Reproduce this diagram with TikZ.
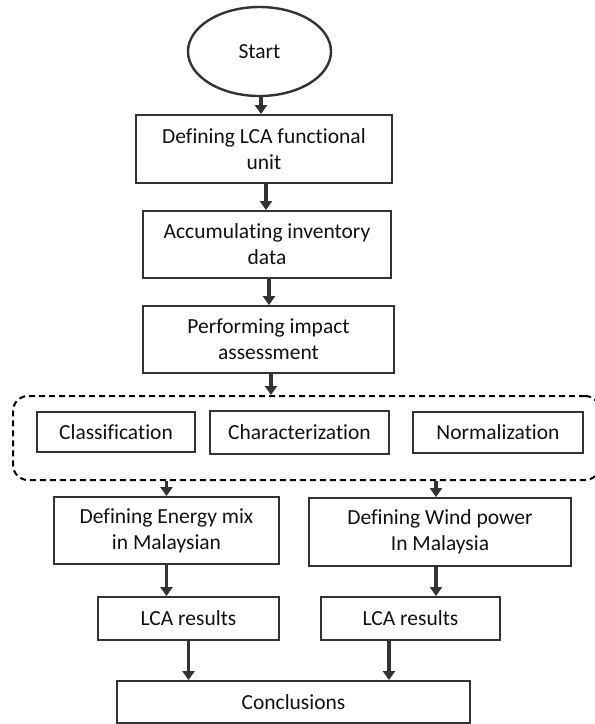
\documentclass[tikz,border=0pt]{standalone}
\usepackage{fontspec}
\setmainfont[Ligatures=NoCommon]{Carlito}
\usetikzlibrary{arrows.meta,shapes.geometric}
\definecolor{ln}{HTML}{333333}
\definecolor{tx}{HTML}{111111}
\begin{document}
\begin{tikzpicture}[x=1pt,y=-1pt,
  box/.style={draw=ln,line width=1.9pt,rectangle,align=center,text=tx,font=\fontsize{21.5}{26}\selectfont,inner sep=0pt},
  arr/.style={draw=ln,line width=3.2pt,-{Triangle[length=9pt,width=12pt]}},
  grpbox/.style={draw=black,line width=2pt,dash pattern=on 6pt off 4pt,rounded corners=15pt,rectangle,inner sep=0pt}]
\useasboundingbox (0,0) rectangle (595,724);
\clip (0,0) rectangle (595,724);
\node[box,ellipse,line width=2.4pt,minimum width=143pt,minimum height=89pt] (start) at (259.5,51.5) {Start};
\node[box,minimum width=256pt,minimum height=68pt] (b1) at (264,149) {Defining LCA functional\\unit};
\node[box,minimum width=248pt,minimum height=67pt] (b2) at (267,244.5) {Accumulating inventory\\data};
\node[box,minimum width=251pt,minimum height=67pt] (b3) at (268.5,339.5) {Performing impact\\assessment};
\node[grpbox,minimum width=587pt,minimum height=84pt] (grp) at (306.5,438) {};
\node[box,minimum width=158pt,minimum height=40pt] (cls) at (116,432) {Classification};
\node[box,minimum width=179pt,minimum height=43pt] (chr) at (299.5,432.5) {Characterization};
\node[box,minimum width=170pt,minimum height=41pt] (nor) at (498,432.5) {Normalization};
\node[box,minimum width=225pt,minimum height=67pt] (em) at (166.5,530.5) {Defining Energy mix\\in Malaysian};
\node[box,minimum width=262pt,minimum height=68pt] (wp) at (440,532) {Defining Wind power\\In Malaysia};
\node[box,minimum width=181pt,minimum height=43pt] (r1) at (188.5,618.5) {LCA results};
\node[box,minimum width=179pt,minimum height=43pt] (r2) at (410.5,618.5) {LCA results};
\node[box,minimum width=353pt,minimum height=42pt] (con) at (293.5,702) {Conclusions};
\draw[arr] ([xshift=1.5pt]start.south) -- ([xshift=1.5pt]start.south |- b1.north);
\draw[arr] ([xshift=2pt]b1.south) -- ([xshift=2pt]b1.south |- b2.north);
\draw[arr] ([xshift=2pt]b2.south) -- ([xshift=2pt]b2.south |- b3.north);
\draw[arr] ([xshift=2.5pt]b3.south) -- ([xshift=2.5pt]b3.south |- grp.north);
\draw[arr] (grp.south -| em.north) -- (em.north);
\draw[arr] ([xshift=-4pt]grp.south -| wp.north) -- ([xshift=-4pt]wp.north);
\draw[arr] (em.south) -- (em.south |- r1.north);
\draw[arr] ([xshift=-4pt]wp.south) -- ([xshift=-4pt]wp.south |- r2.north);
\draw[arr] (r1.south) -- (r1.south |- con.north);
\draw[arr] ([xshift=-21.5pt]r2.south) -- ([xshift=-21.5pt]r2.south |- con.north);
\end{tikzpicture}
\end{document}
